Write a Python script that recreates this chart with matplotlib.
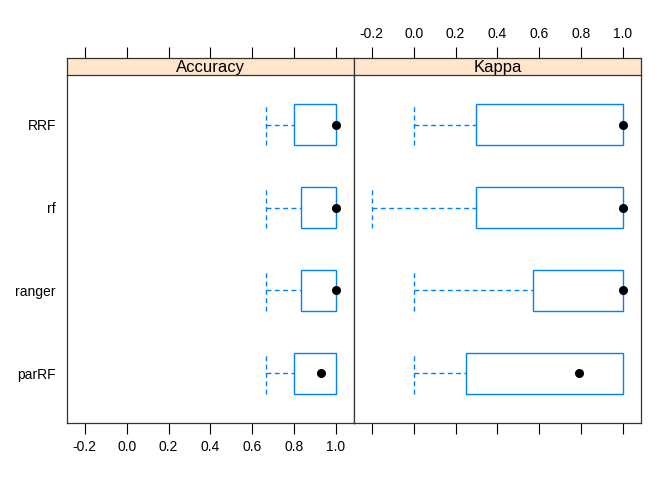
import matplotlib
matplotlib.use("Agg")
import matplotlib.pyplot as plt
import numpy as np

plt.rcParams['font.family'] = ['Liberation Sans', 'DejaVu Sans']

models = ["parRF", "ranger", "rf", "RRF"]
metrics = ["Accuracy", "Kappa"]
# per metric: whisker low, q1, median, q3, whisker high (same order as models)
acc_low = [0.667, 0.667, 0.667, 0.667]
acc_q1 = [0.80, 0.833, 0.833, 0.80]
acc_med = [0.929, 1.0, 1.0, 1.0]
acc_q3 = [1.0, 1.0, 1.0, 1.0]
acc_high = [1.0, 1.0, 1.0, 1.0]
kap_low = [0.0, 0.0, -0.2, 0.0]
kap_q1 = [0.25, 0.571, 0.30, 0.30]
kap_med = [0.79, 1.0, 1.0, 1.0]
kap_q3 = [1.0, 1.0, 1.0, 1.0]
kap_high = [1.0, 1.0, 1.0, 1.0]
xticks = [-0.2, 0.0, 0.2, 0.4, 0.6, 0.8, 1.0]

data = {
    "Accuracy": (acc_low, acc_q1, acc_med, acc_q3, acc_high),
    "Kappa": (kap_low, kap_q1, kap_med, kap_q3, kap_high),
}

W, H = 672, 480
fig = plt.figure(figsize=(W / 100, H / 100), dpi=100)
boxcol = "#0080ff"
stripcol = "#ffe5cc"
xlim = (-0.285, 1.086)
ylim = (0.4, 4.6)

px_left, px_mid, px_right = 67, 354, 641
py_striptop, py_stripbot, py_bottom = 58, 75, 423

def fx(p):
    return p / W

def fy(p):
    return 1 - p / H

dash = (0, (3.5, 2.5))
for i, m in enumerate(metrics):
    x0 = [px_left, px_mid][i]
    x1 = [px_mid, px_right][i]
    # top tick axes (spans panel + strip), drawn first so it sits beneath
    tax = fig.add_axes([fx(x0), fy(py_bottom), fx(x1 - x0), fy(py_striptop) - fy(py_bottom)])
    tax.set_xlim(*xlim)
    tax.set_xticks(xticks)
    tax.set_xticklabels([f"{t:.1f}" for t in xticks])
    tax.xaxis.set_ticks_position("top")
    tax.xaxis.set_label_position("top")
    tax.tick_params(axis="x", top=True, bottom=False, labeltop=(i == 1), labelbottom=False,
                    length=8, width=0.8, labelsize=10, pad=4)
    tax.set_yticks([])
    for sp in tax.spines.values():
        sp.set_visible(False)
    tax.patch.set_visible(False)

    ax = fig.add_axes([fx(x0), fy(py_bottom), fx(x1 - x0), fy(py_stripbot) - fy(py_bottom)])
    sax = fig.add_axes([fx(x0), fy(py_stripbot), fx(x1 - x0), fy(py_striptop) - fy(py_stripbot)])
    low, q1, med, q3, high = data[m]
    hw = 0.25
    for j, name in enumerate(models):
        y = j + 1
        ax.add_patch(plt.Rectangle((q1[j], y - hw), q3[j] - q1[j], 2 * hw,
                                   fill=False, edgecolor=boxcol, lw=1.0, zorder=2))
        if low[j] < q1[j]:
            ax.plot([low[j], q1[j]], [y, y], color=boxcol, lw=1.0, ls=dash, zorder=1)
            ax.plot([low[j], low[j]], [y - hw, y + hw], color=boxcol, lw=1.0, ls=dash, zorder=1)
        if high[j] > q3[j]:
            ax.plot([q3[j], high[j]], [y, y], color=boxcol, lw=1.0, ls=dash, zorder=1)
            ax.plot([high[j], high[j]], [y - hw, y + hw], color=boxcol, lw=1.0, ls=dash, zorder=1)
        ax.plot([med[j]], [y], "o", color="black", ms=5.5, zorder=3)
    ax.set_xlim(*xlim)
    ax.set_ylim(*ylim)
    ax.set_xticks(xticks)
    ax.set_xticklabels([f"{t:.1f}" for t in xticks])
    ax.tick_params(axis="x", length=8, width=0.8, labelsize=10, colors="black", pad=4,
                   top=False, bottom=True, labeltop=False, labelbottom=(i == 0))
    if i == 0:
        ax.set_yticks(range(1, len(models) + 1))
        ax.set_yticklabels(models)
        ax.tick_params(axis="y", length=0, labelsize=10, pad=8)
    else:
        ax.set_yticks([])
    for sp in ax.spines.values():
        sp.set_linewidth(0.9)
        sp.set_color("#333333")
    ax.spines["top"].set_visible(False)

    sax.set_facecolor(stripcol)
    sax.set_xticks([])
    sax.set_yticks([])
    for sp in sax.spines.values():
        sp.set_linewidth(0.9)
        sp.set_color("#333333")
    sax.text(0.5, 0.45, m, ha="center", va="center", fontsize=12, transform=sax.transAxes)

fig.savefig("out.png", dpi=100)
